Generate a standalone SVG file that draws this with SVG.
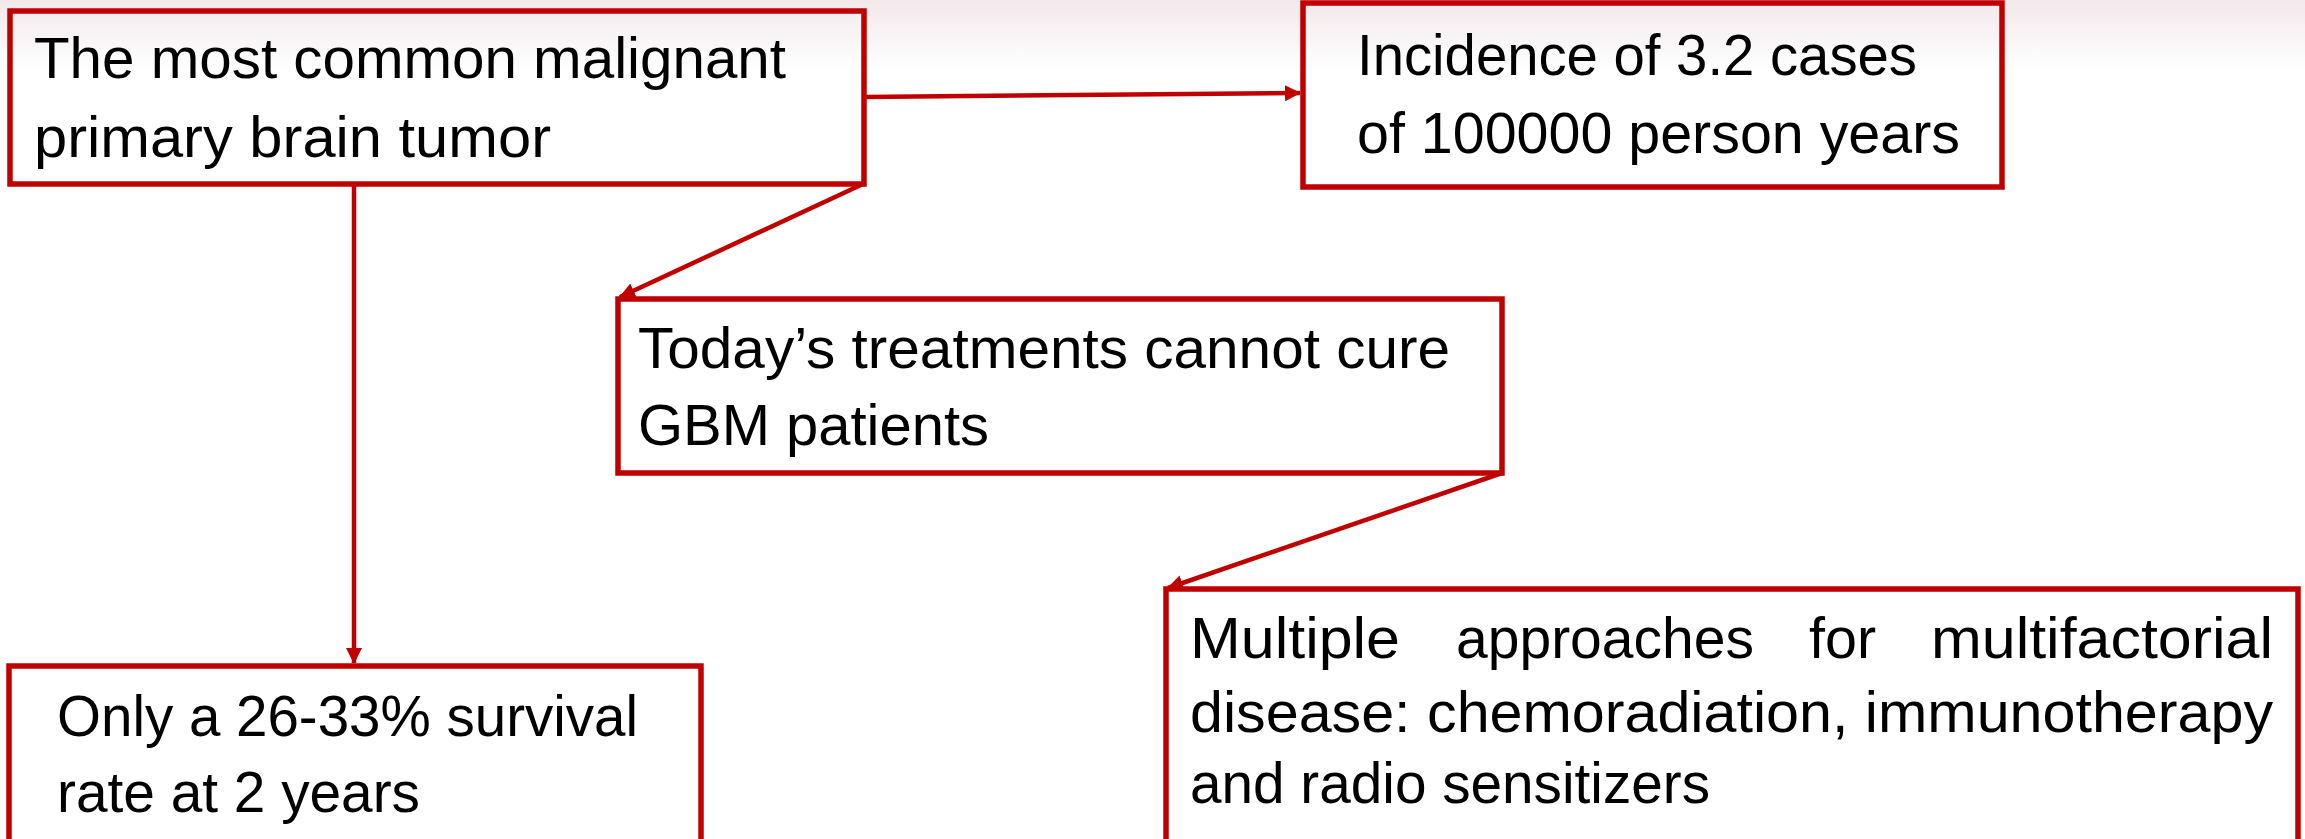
<svg xmlns="http://www.w3.org/2000/svg" width="2305" height="839" viewBox="0 0 2305 839">
<style>
.box{fill:none;stroke:#C00000;stroke-width:5.5}
.t{font-family:"Liberation Sans",Arial,sans-serif;font-size:58px;fill:#000}
.c{fill:none;stroke:#C00000;stroke-width:4.5}
</style>
<defs>
<linearGradient id="bg" x1="0" y1="0" x2="0" y2="1">
<stop offset="0" stop-color="#f1e8ea"/>
<stop offset="1" stop-color="#ffffff"/>
</linearGradient>
<marker id="ah" markerUnits="userSpaceOnUse" markerWidth="18" markerHeight="18" refX="15" refY="8" orient="auto">
<path d="M0,0 L16,8 L0,16 Z" fill="#C00000"/>
</marker>
</defs>
<rect width="2305" height="839" fill="#fff"/>
<rect width="2305" height="70" fill="url(#bg)"/>
<g id="connectors">
<path class="c" d="M864,97 L1300,93" marker-end="url(#ah)"/>
<path class="c" d="M354,184 L354,663" marker-end="url(#ah)"/>
<path class="c" d="M863,184 L620,297" marker-end="url(#ah)"/>
<path class="c" d="M1502,473 L1168,588" marker-end="url(#ah)"/>
</g>
<g id="n1">
<rect class="box" x="10" y="11" width="854" height="173"/>
<text class="t" x="34" y="78" textLength="752" lengthAdjust="spacingAndGlyphs">The most common malignant</text>
<text class="t" x="34" y="157" textLength="517" lengthAdjust="spacingAndGlyphs">primary brain tumor</text>
</g>
<g id="n2">
<rect class="box" x="1303" y="3" width="699" height="184"/>
<text class="t" x="1357" y="75" textLength="560" lengthAdjust="spacingAndGlyphs">Incidence of 3.2 cases</text>
<text class="t" x="1357" y="153" textLength="603" lengthAdjust="spacingAndGlyphs">of 100000 person years</text>
</g>
<g id="n3">
<rect class="box" x="618" y="299" width="884" height="174"/>
<text class="t" x="638" y="368" textLength="812" lengthAdjust="spacingAndGlyphs">Today’s treatments cannot cure</text>
<text class="t" x="638" y="445" textLength="351" lengthAdjust="spacingAndGlyphs">GBM patients</text>
</g>
<g id="n4">
<rect class="box" x="9" y="666" width="692" height="190"/>
<text class="t" x="57" y="736" textLength="581" lengthAdjust="spacingAndGlyphs">Only a 26-33% survival</text>
<text class="t" x="57" y="812" textLength="363" lengthAdjust="spacingAndGlyphs">rate at 2 years</text>
</g>
<g id="n5">
<rect class="box" x="1166" y="589" width="1132" height="270"/>
<text class="t" y="658"><tspan x="1190" textLength="210" lengthAdjust="spacingAndGlyphs">Multiple</tspan> <tspan x="1456" textLength="298" lengthAdjust="spacingAndGlyphs">approaches</tspan> <tspan x="1809" textLength="67" lengthAdjust="spacingAndGlyphs">for</tspan> <tspan x="1931" textLength="342" lengthAdjust="spacingAndGlyphs">multifactorial</tspan></text>
<text class="t" x="1190" y="732" textLength="1083" lengthAdjust="spacingAndGlyphs">disease: chemoradiation, immunotherapy</text>
<text class="t" x="1190" y="803" textLength="520" lengthAdjust="spacingAndGlyphs">and radio sensitizers</text>
</g>
</svg>
